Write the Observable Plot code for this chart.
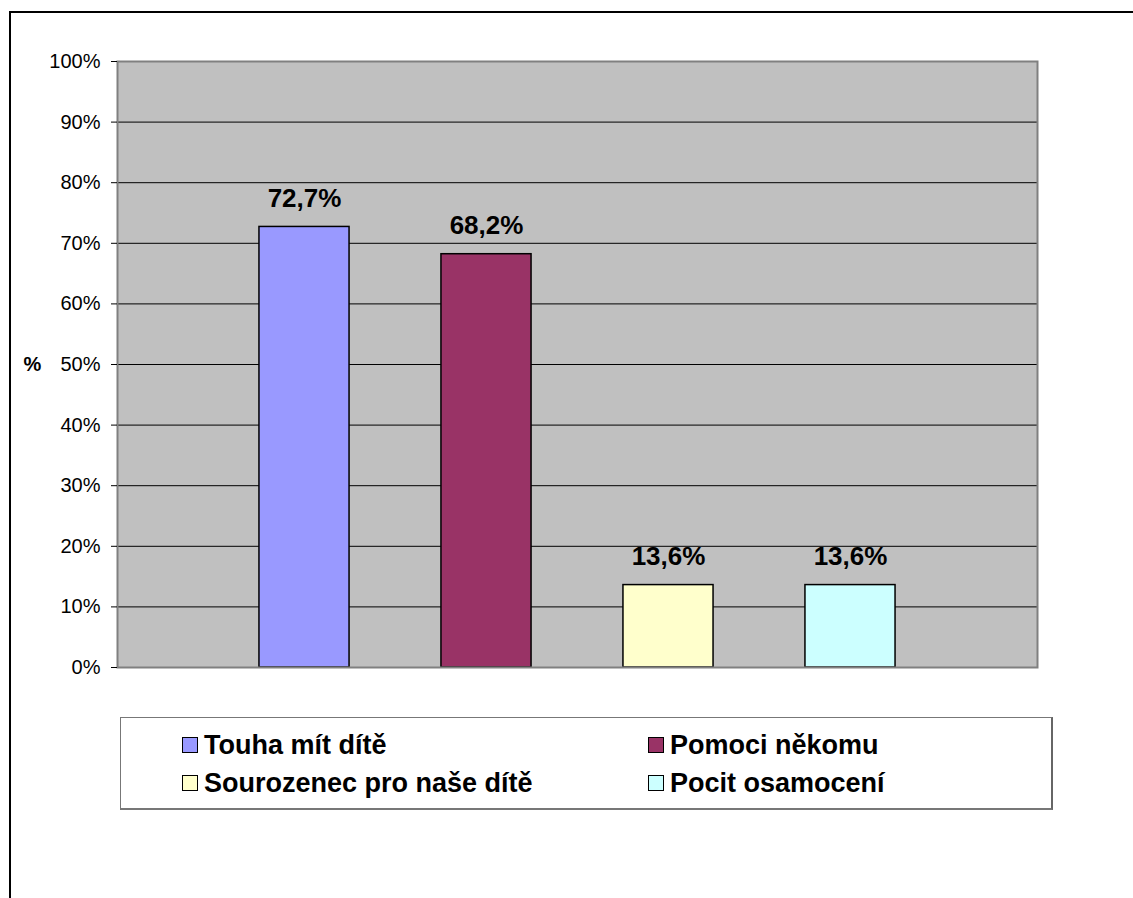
<!DOCTYPE html>
<html>
<head>
<meta charset="utf-8">
<script src="https://cdn.jsdelivr.net/npm/d3@7"></script>
<script src="https://cdn.jsdelivr.net/npm/@observablehq/plot@0.6"></script>
<style>
  html, body { margin: 0; padding: 0; background: #fff; overflow: hidden; }
  body { font-family: "Liberation Sans", Arial, sans-serif; color: #000; }
  #wrap { position: relative; width: 1133px; height: 898px; }
  #frame { position: absolute; left: 9px; top: 11px; width: 1300px; height: 1000px;
           border-left: 2px solid #000; border-top: 2px solid #000; pointer-events: none; }
  #chart { position: absolute; left: 0; top: 0; }
  #legend { position: absolute; left: 120px; top: 717px; width: 930px; height: 90px;
            border: 1px solid #777; border-right: 2px solid #666; border-bottom: 2px solid #777;
            background: #fff; }
  .item { position: absolute; display: flex; align-items: center; font-weight: bold;
          font-size: 27px; white-space: nowrap; height: 30px; }
  .sw { width: 14px; height: 14px; border: 1.5px solid #000; margin-right: 6px; }
</style>
</head>
<body>
<div id="wrap">
  <div id="chart"></div>
  <div id="legend"></div>
  <div id="frame"></div>
</div>
<script>
const categories = ["Touha mít dítě", "Pomoci někomu", "Sourozenec pro naše dítě", "Pocit osamocení"];
const values = [72.7, 68.2, 13.6, 13.6];
const colors = ["#9999FF", "#993366", "#FFFFCC", "#CCFFFF"];
const yTicks = [0, 10, 20, 30, 40, 50, 60, 70, 80, 90, 100];
const gridValues = [10, 20, 30, 40, 50, 60, 70, 80, 90];

const data = categories.map((c, i) => ({category: c, value: values[i], color: colors[i],
  label: values[i].toFixed(1).replace(".", ",") + "%"}));

const chart = Plot.plot({
  width: 1133,
  height: 700,
  marginTop: 61,
  marginBottom: 33,
  marginLeft: 117,
  marginRight: 96,
  style: {fontFamily: "'Liberation Sans', Arial, sans-serif", color: "#000", background: "transparent"},
  x: {type: "band", domain: categories, paddingInner: 0.505, paddingOuter: 0.78, round: false, axis: null},
  y: {domain: [0, 100], axis: null},
  marks: [
    Plot.frame({fill: "#C0C0C0", stroke: null}),
    Plot.ruleY(gridValues, {stroke: "#000", strokeWidth: 1}),
    Plot.barY(data, {x: "category", y: "value", fill: "color", stroke: "#000", strokeWidth: 1.5}),
    Plot.frame({stroke: "#808080", strokeWidth: 2}),
    Plot.axisY({ticks: yTicks, tickFormat: d => d + "%", tickSize: 6, tickPadding: 11,
                fontSize: 20, label: null, stroke: "#000"}),
    Plot.text(data, {x: "category", y: "value", text: "label", fontSize: 26, fontWeight: "bold",
                     fill: "#000", lineAnchor: "bottom", dy: -20}),
    Plot.text(["%"], {y: () => 50, frameAnchor: "left", dx: -85, text: d => d, fontSize: 20,
                      fontWeight: "bold", fill: "#000", textAnchor: "middle"})
  ]
});
document.getElementById("chart").appendChild(chart);

const legend = document.getElementById("legend");
const pos = [[61, 12], [527, 12], [61, 50], [527, 50]];
data.forEach((d, i) => {
  const el = document.createElement("div");
  el.className = "item";
  el.style.left = pos[i][0] + "px";
  el.style.top = pos[i][1] + "px";
  const sw = document.createElement("div");
  sw.className = "sw";
  sw.style.background = d.color;
  el.appendChild(sw);
  const t = document.createElement("span");
  t.textContent = d.category;
  el.appendChild(t);
  legend.appendChild(el);
});
</script>
</body>
</html>
